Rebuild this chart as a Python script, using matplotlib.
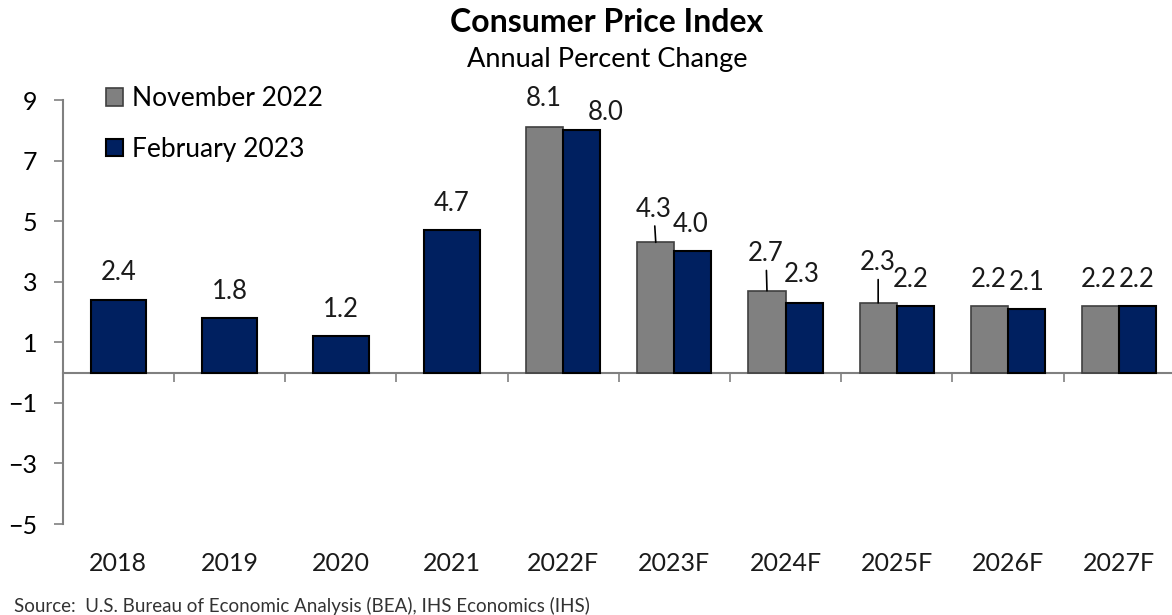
import matplotlib.pyplot as plt
import matplotlib.transforms as mtransforms

years = ['2018', '2019', '2020', '2021', '2022F', '2023F', '2024F', '2025F', '2026F', '2027F']
feb_2023 = [2.4, 1.8, 1.2, 4.7, 8.0, 4.0, 2.3, 2.2, 2.1, 2.2]
nov_2022 = [None, None, None, None, 8.1, 4.3, 2.7, 2.3, 2.2, 2.2]

# label nudges in pixels (Excel labels were dragged by hand)
feb_offsets = [(0, 27)] * 4 + [(24, 18), (-2, 27), (-2, 28), (-5, 26), (0, 26), (-1, 26)]
nov_offsets = [None] * 4 + [(-1, 29), (-2, 33), (-1, 37), (0, 40), (-1, 26), (-2, 26)]
leader = [False] * 5 + [True, True, True, False, False]

GREY = '#808080'
NAVY = '#002060'

plt.rcParams['font.family'] = ['Lato', 'DejaVu Sans']

fig = plt.figure(figsize=(11.72, 6.15), dpi=100)
ax = fig.add_axes([62.7 / 1172, 1 - 524 / 615, 1112 / 1172, 424 / 615])


def add_label(x, y, text, offset, line=False):
    props = None
    if line:
        props = dict(arrowstyle='-', color='black', lw=1.2, shrinkA=1, shrinkB=0)
    ax.annotate(text, xy=(x, y), xytext=offset, textcoords='offset pixels',
                ha='center', va='center', fontsize=18.5, color='#1a1a1a',
                arrowprops=props)


for i, year in enumerate(years):
    if nov_2022[i] is None:
        ax.bar(i, feb_2023[i], width=0.5, color=NAVY, edgecolor='black', linewidth=1.5, zorder=3,
               label='February 2023' if i == 0 else None)
        add_label(i, feb_2023[i], f'{feb_2023[i]:.1f}', feb_offsets[i])
    else:
        w = 1 / 3
        ax.bar(i - w / 2, nov_2022[i], width=w, color=GREY, edgecolor='#404040', linewidth=1.2, zorder=3,
               label='November 2022' if i == 4 else None)
        ax.bar(i + w / 2, feb_2023[i], width=w, color=NAVY, edgecolor='black', linewidth=1.5, zorder=3)
        add_label(i - w / 2, nov_2022[i], f'{nov_2022[i]:.1f}', nov_offsets[i], leader[i])
        add_label(i + w / 2, feb_2023[i], f'{feb_2023[i]:.1f}', feb_offsets[i])

ax.set_xlim(-0.5, len(years) - 0.5)
ax.set_ylim(-5, 9)
ax.set_yticks(range(-5, 10, 2))
ax.tick_params(axis='y', direction='out', length=6.5, width=1.2, color=GREY, pad=12, labelsize=18)

ax.spines['top'].set_visible(False)
ax.spines['right'].set_visible(False)
ax.spines['left'].set_color(GREY)
ax.spines['left'].set_linewidth(1.5)
ax.spines['bottom'].set_position(('data', 0))
ax.spines['bottom'].set_color(GREY)
ax.spines['bottom'].set_linewidth(1.5)
ax.set_xticks([i + 0.5 for i in range(len(years) - 1)])
ax.tick_params(axis='x', direction='out', length=6.5, width=1.2, color=GREY, labelbottom=False)

# category labels sit at the bottom of the plot, not on the zero line
trans = mtransforms.blended_transform_factory(ax.transData, ax.transAxes)
for i, year in enumerate(years):
    ax.text(i, -0.094, year, transform=trans, ha='center', va='center', fontsize=18, color='#1a1a1a')

handles, labels = ax.get_legend_handles_labels()
order = [labels.index('November 2022'), labels.index('February 2023')]
ax.legend([handles[k] for k in order], [labels[k] for k in order], loc='upper left',
          bbox_to_anchor=(0.018, 1.088), frameon=False, fontsize=19, handlelength=0.64,
          handleheight=0.64, handletextpad=0.34, labelspacing=0.95)

fig.text(607 / 1172, 1 - 22 / 615, 'Consumer Price Index', ha='center', va='center',
         fontsize=23, fontweight='bold')
fig.text(607 / 1172, 1 - 60 / 615, 'Annual Percent Change', ha='center', va='center', fontsize=19.5)
fig.text(14 / 1172, 1 - 606 / 615, 'Source:  U.S. Bureau of Economic Analysis (BEA), IHS Economics (IHS)',
         ha='left', va='center', fontsize=13.5, color='#333333')

fig.savefig('out.png', dpi=100)
